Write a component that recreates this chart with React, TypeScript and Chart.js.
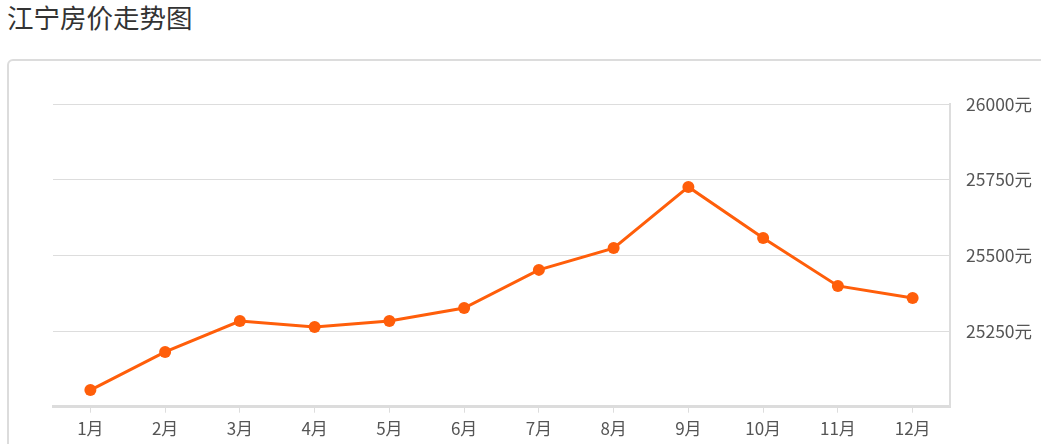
import React, { useEffect, useRef } from "react";
import { Chart, registerables } from "chart.js";

Chart.register(...registerables);

const title = "江宁房价走势图";
const months = ["1月", "2月", "3月", "4月", "5月", "6月", "7月", "8月", "9月", "10月", "11月", "12月"];
const prices = [25055, 25181, 25283, 25263, 25283, 25326, 25452, 25524, 25726, 25557, 25399, 25359];
const yMin = 25000;
const yMax = 26000;
const yStep = 250;
const unit = "元";

const FONT = "'Noto Sans CJK SC', 'Noto Sans', sans-serif";

export default function App() {
  const ref = useRef<HTMLCanvasElement | null>(null);

  useEffect(() => {
    if (!ref.current) return;
    const chart = new Chart(ref.current, {
      type: "line",
      data: {
        labels: months,
        datasets: [
          {
            data: prices,
            borderColor: "#ff5e0a",
            backgroundColor: "#ff5e0a",
            borderWidth: 3,
            pointRadius: 6,
            pointBackgroundColor: "#ff5e0a",
            pointBorderWidth: 0,
            tension: 0,
          },
        ],
      },
      options: {
        animation: false,
        responsive: false,
        devicePixelRatio: 1,
        layout: { padding: { left: 45, top: 44, right: 0, bottom: 0 } },
        plugins: { legend: { display: false }, tooltip: { enabled: false } },
        scales: {
          x: {
            offset: true,
            grid: {
              drawOnChartArea: false,
              drawTicks: true,
              tickLength: 6,
              color: "#dddddd",
              lineWidth: 1,
            },
            border: { display: true, color: "#dcdcdc", width: 3 },
            ticks: {
              color: "#555555",
              font: { family: FONT, size: 17 },
              padding: 6,
              maxRotation: 0,
            },
            afterFit: (s: any) => {
              s.height = 37.3;
            },
          },
          y: {
            position: "right",
            min: yMin,
            max: yMax,
            grid: { color: "#dddddd", lineWidth: 1, drawTicks: false },
            border: { display: true, color: "#dddddd", width: 2 },
            ticks: {
              stepSize: yStep,
              padding: 16,
              color: "#555555",
              font: { family: FONT, size: 17.5 },
              callback: (v: any) => (Number(v) === yMin ? "" : `${v}${unit}`),
            },
            afterFit: (s: any) => {
              s.width = 91;
            },
          },
        },
      },
    });
    return () => chart.destroy();
  }, []);

  return (
    <div
      style={{
        position: "absolute",
        left: 0,
        top: 0,
        width: 1041,
        height: 444,
        overflow: "hidden",
        background: "#fff",
      }}
    >
      <div
        style={{
          position: "absolute",
          left: 7,
          top: 2,
          fontFamily: FONT,
          fontSize: 26.5,
          lineHeight: "30px",
          color: "#333333",
        }}
      >
        {title}
      </div>
      <div
        style={{
          position: "absolute",
          left: 7,
          top: 59,
          width: 1200,
          height: 600,
          border: "2px solid #dcdcdc",
          borderRadius: 6,
          boxSizing: "border-box",
        }}
      />
      <canvas
        ref={ref}
        width={1033}
        height={384}
        style={{ position: "absolute", left: 8, top: 60, width: 1033, height: 384 }}
      />
    </div>
  );
}
